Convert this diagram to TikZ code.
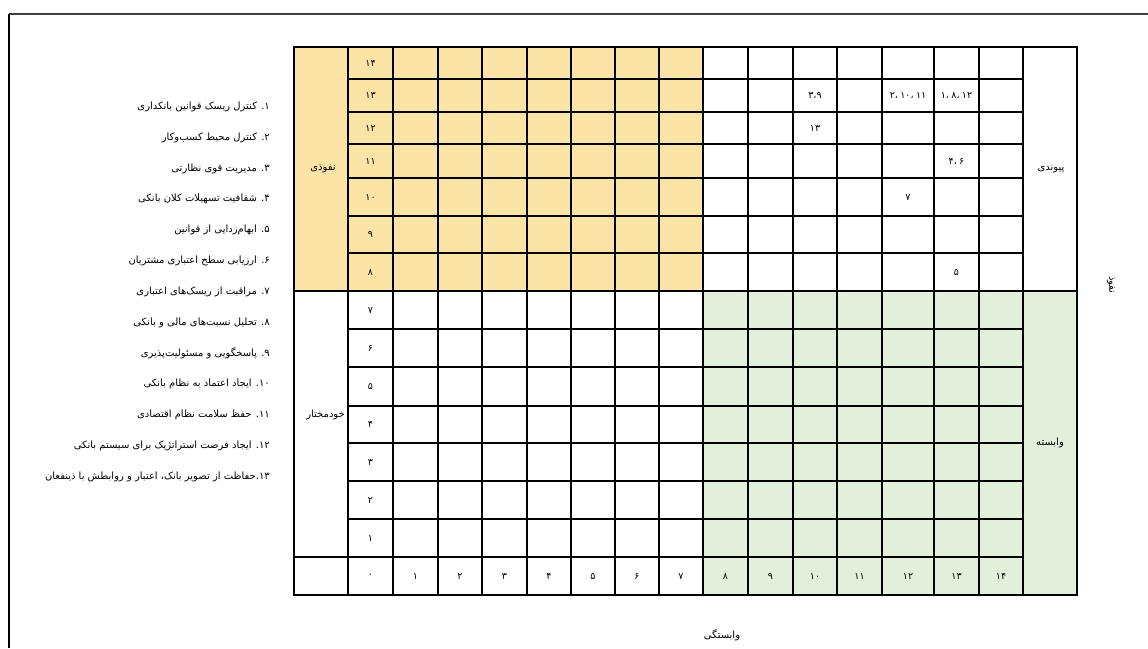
\documentclass[tikz,border=0pt]{standalone}
\usepackage{fontspec}
\newfontfamily\fafont[Script=Arabic]{DejaVu Sans}
\TeXXeTstate=1

\definecolor{influzone}{HTML}{FCE4A6}
\definecolor{dependzone}{HTML}{E2EFDA}

% one digit group or comma per box, kept left to right
\newcommand{\fnum}[1]{\hbox{#1}}
\newcommand{\fsep}{\hbox{،}\hspace{0.25em}}

\tikzset{
  gridline/.style={line width=2.4pt},
  cellnum/.style={font=\fafont\fontsize{9.5}{11}\selectfont, inner sep=1pt},
  headtxt/.style={font=\fafont\fontsize{10}{12}\selectfont, inner sep=1pt},
  itemtxt/.style={font=\fafont\fontsize{10}{12}\selectfont, anchor=east, inner sep=0pt}
}

\begin{document}
\begin{tikzpicture}[x=1pt, y=-1pt]
    \useasboundingbox (0,0) rectangle (1148,648);

    % Page frame (left and top edges only)
    \draw[line width=1.6pt, black!75] (9,14) -- (1148,14);
    \draw[line width=2.6pt] (9,14) -- (9,648);

    % Shaded zones
    \fill[influzone] (294,47) rectangle (703,291);
    \fill[dependzone] (703,291) rectangle (1077,595);

    % Grid lines
    \foreach \x in {348,393,438,482,527,571,615,659,703,748,793,837,882,934,979,1023}
        \draw[gridline] (\x,47) -- (\x,595);
    \foreach \y in {79,112,144,178,216,253,329,367,406,443,481,519}
        \draw[gridline] (348,\y) -- (1023,\y);
    \draw[gridline] (294,291) -- (1077,291);
    \draw[gridline] (294,557) -- (1023,557);

    % Outer border
    \draw[gridline] (294,47) rectangle (1077,595);

    % Row numbers
    \foreach \y/\lab/\nm in {63/۱۴/14, 95.5/۱۳/13, 128/۱۲/12, 161/۱۱/11, 197/۱۰/10,
        234.5/۹/9, 272/۸/8, 310/۷/7, 348/۶/6, 386.5/۵/5, 424.5/۴/4, 462/۳/3,
        500/۲/2, 538/۱/1, 576/۰/0}
        \node[cellnum] (row\nm) at (370.5,\y) {\lab};

    % Column numbers
    \foreach \x/\lab/\nm in {415.5/۱/1, 460/۲/2, 504.5/۳/3, 549/۴/4, 593/۵/5, 637/۶/6,
        681/۷/7, 725.5/۸/8, 770.5/۹/9, 815/۱۰/10, 859.5/۱۱/11, 908/۱۲/12,
        956.5/۱۳/13, 1001/۱۴/14}
        \node[cellnum] (col\nm) at (\x,576) {\lab};

    % Placed items
    \node[cellnum] (c13a) at (815,95.5) {\fnum{۳}\hbox{،}\fnum{۹}};
    \node[cellnum] (c13b) at (908,95.5) {\fnum{۲}\fsep\fnum{۱۰}\fsep\fnum{۱۱}};
    \node[cellnum] (c13c) at (956.5,95.5) {\fnum{۱}\fsep\fnum{۸}\fsep\fnum{۱۲}};
    \node[cellnum] (c12a) at (815,128) {۱۳};
    \node[cellnum] (c11a) at (956.5,161) {\fnum{۴}\fsep\fnum{۶}};
    \node[cellnum] (c10a) at (908,197) {۷};
    \node[cellnum] (c8a) at (956.5,272) {۵};

    % Zone names
    \node[headtxt] (linkage) at (323,169) {\beginR نفوذی\endR};
    \node[headtxt, anchor=east] (autonomous) at (346,415) {\beginR خودمختار\endR};
    \node[headtxt] (linkzone) at (1051,169) {\beginR پیوندی\endR};
    \node[headtxt] (dependent) at (1050,443) {\beginR وابسته\endR};

    % Axis names
    \node[headtxt] (xaxis) at (722,635) {\beginR وابستگی\endR};
    \node[headtxt, rotate=-90] (yaxis) at (1111,285) {\beginR نفوذ\endR};

    % Factor list
    \node[itemtxt] (f1) at (270,107) {\beginR ۱. کنترل ریسک قوانین بانکداری\endR};
    \node[itemtxt] (f2) at (270,137.8) {\beginR ۲. کنترل محیط کسب‌وکار\endR};
    \node[itemtxt] (f3) at (270,168.6) {\beginR ۳. مدیریت قوی نظارتی\endR};
    \node[itemtxt] (f4) at (270,199.4) {\beginR ۴. شفافیت تسهیلات کلان بانکی\endR};
    \node[itemtxt] (f5) at (270,230.2) {\beginR ۵. ابهام‌زدایی از قوانین\endR};
    \node[itemtxt] (f6) at (270,261) {\beginR ۶. ارزیابی سطح اعتباری مشتریان\endR};
    \node[itemtxt] (f7) at (270,291.8) {\beginR ۷. مراقبت از ریسک‌های اعتباری\endR};
    \node[itemtxt] (f8) at (270,322.6) {\beginR ۸. تحلیل نسبت‌های مالی و بانکی\endR};
    \node[itemtxt] (f9) at (270,353.4) {\beginR ۹. پاسخگویی و مسئولیت‌پذیری\endR};
    \node[itemtxt] (f10) at (270,384.2) {\beginR ۱۰. ایجاد اعتماد به نظام بانکی\endR};
    \node[itemtxt] (f11) at (270,415) {\beginR ۱۱. حفظ سلامت نظام اقتصادی\endR};
    \node[itemtxt] (f12) at (270,445.8) {\beginR ۱۲. ایجاد فرصت استراتژیک برای سیستم بانکی\endR};
    \node[itemtxt] (f13) at (270,476.6) {\beginR ۱۳.حفاظت از تصویر بانک، اعتبار و روابطش با ذینفعان\endR};
\end{tikzpicture}
\end{document}
